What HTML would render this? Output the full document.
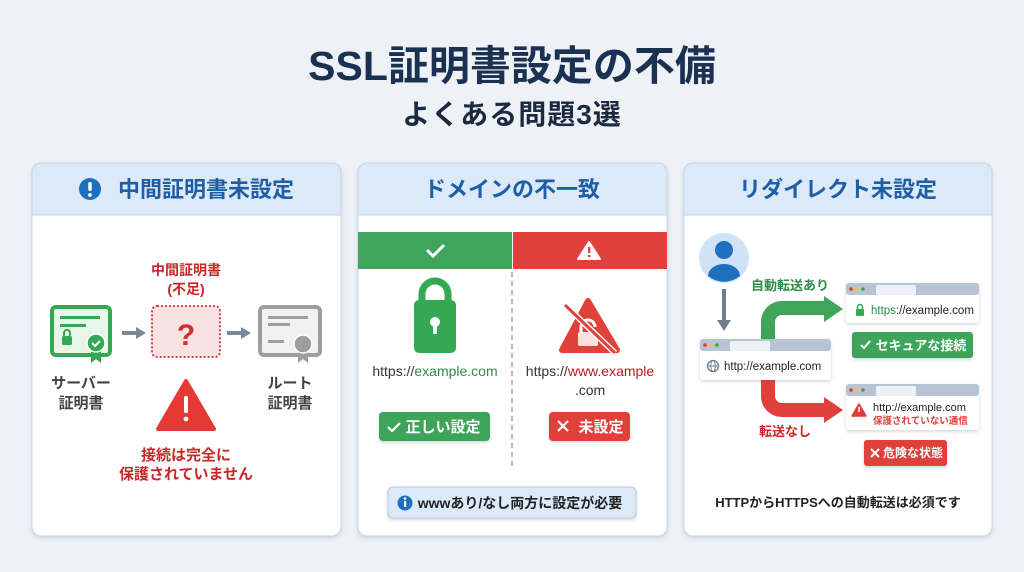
<!DOCTYPE html>
<html><head><meta charset="utf-8"><style>
html,body{margin:0;padding:0;background:#eef2f7;}
svg{display:block;font-family:"Liberation Sans","Noto Sans CJK JP",sans-serif;}
</style></head><body>
<svg width="1024" height="572" viewBox="0 0 1024 572" xmlns="http://www.w3.org/2000/svg">
<defs>
<filter id="sh" x="-10%" y="-10%" width="120%" height="120%"><feDropShadow dx="0" dy="2" stdDeviation="2.5" flood-color="#6b7f99" flood-opacity="0.25"/></filter>
<filter id="sh2" x="-10%" y="-20%" width="120%" height="140%"><feDropShadow dx="0" dy="1.5" stdDeviation="1.5" flood-color="#555" flood-opacity="0.25"/></filter>
</defs>
<rect width="1024" height="572" fill="#eef2f7"/>
<text x="512" y="80" text-anchor="middle" font-size="41" font-weight="bold" fill="#1b3152">SSL証明書設定の不備</text>
<text x="512" y="124" text-anchor="middle" font-size="28" font-weight="bold" fill="#1b2a40" letter-spacing="1">よくある問題3選</text>

<g filter="url(#sh)">
<rect x="32" y="163" width="309" height="373" rx="9" fill="#fff" stroke="#c3d5ea"/>
<rect x="358" y="163" width="309" height="373" rx="9" fill="#fff" stroke="#c3d5ea"/>
<rect x="684" y="163" width="308" height="373" rx="9" fill="#fff" stroke="#c3d5ea"/>
</g>
<path d="M32,215 V172 a9,9 0 0 1 9,-9 H332 a9,9 0 0 1 9,9 V215Z" fill="#dbe9f8" stroke="#c3d5ea"/>
<path d="M358,215 V172 a9,9 0 0 1 9,-9 H658 a9,9 0 0 1 9,9 V215Z" fill="#dbe9f8" stroke="#c3d5ea"/>
<path d="M684,215 V172 a9,9 0 0 1 9,-9 H983 a9,9 0 0 1 9,9 V215Z" fill="#dbe9f8" stroke="#c3d5ea"/>

<!-- Panel 1 -->
<circle cx="90" cy="189" r="11" fill="#1f6fbf"/>
<rect x="88.3" y="182" width="3.4" height="9" rx="1.5" fill="#fff"/><circle cx="90" cy="195" r="1.9" fill="#fff"/>
<text x="206" y="197" text-anchor="middle" font-size="22" font-weight="bold" fill="#1f5fa8">中間証明書未設定</text>
<text x="186" y="275" text-anchor="middle" font-size="14" font-weight="bold" fill="#c62828">中間証明書</text>
<text x="186" y="294" text-anchor="middle" font-size="14" font-weight="bold" fill="#c62828">(不足)</text>
<rect x="52" y="307" width="58" height="48" rx="4" fill="#e8f5e9" stroke="#34a853" stroke-width="4"/>
<rect x="60" y="316" width="40" height="3" fill="#34a853"/><rect x="60" y="324" width="26" height="3" fill="#34a853"/>
<rect x="62" y="336" width="10" height="9" rx="1.5" fill="#34a853"/><path d="M64,336 v-3 a3,3 0 0 1 6,0 v3" fill="none" stroke="#34a853" stroke-width="2"/>
<path d="M91,350 v13 l5,-4 l5,4 v-13z" fill="#34a853"/>
<circle cx="96" cy="343" r="9" fill="#34a853" stroke="#fff" stroke-width="1.5"/>
<path d="M92,343 l3,3 l5,-5" fill="none" stroke="#fff" stroke-width="2"/>
<path d="M122,333 h16" stroke="#7a8796" stroke-width="4"/><path d="M136,327 l10,6 l-10,6z" fill="#7a8796"/>
<path d="M227,333 h16" stroke="#7a8796" stroke-width="4"/><path d="M241,327 l10,6 l-10,6z" fill="#7a8796"/>
<rect x="152" y="306" width="68" height="51" rx="5" fill="#fbe2e2" stroke="#d32f2f" stroke-width="1.8" stroke-dasharray="2,2"/>
<text x="186" y="345" text-anchor="middle" font-size="30" font-weight="bold" fill="#d32f2f">?</text>
<rect x="260" y="307" width="60" height="48" rx="4" fill="#f1f1f1" stroke="#9e9e9e" stroke-width="4"/>
<rect x="268" y="316" width="40" height="3" fill="#9e9e9e"/><rect x="268" y="323" width="22" height="3" fill="#9e9e9e"/><rect x="268" y="340" width="16" height="3" fill="#9e9e9e"/>
<path d="M298,350 v13 l5,-4 l5,4 v-13z" fill="#9e9e9e"/>
<circle cx="303" cy="344" r="9" fill="#9e9e9e" stroke="#fff" stroke-width="1.5"/>
<text x="81" y="388" text-anchor="middle" font-size="15" font-weight="bold" fill="#444">サーバー</text>
<text x="81" y="408" text-anchor="middle" font-size="15" font-weight="bold" fill="#444">証明書</text>
<text x="290" y="388" text-anchor="middle" font-size="15" font-weight="bold" fill="#444">ルート</text>
<text x="290" y="408" text-anchor="middle" font-size="15" font-weight="bold" fill="#444">証明書</text>
<path d="M186,381 L214,429 H158Z" fill="#e53935" stroke="#e53935" stroke-width="4" stroke-linejoin="round"/>
<rect x="184" y="396" width="4" height="17" rx="1.5" fill="#fff"/><circle cx="186" cy="419" r="2.4" fill="#fff"/>
<text x="186" y="460" text-anchor="middle" font-size="15" font-weight="bold" fill="#c62828">接続は完全に</text>
<text x="186" y="479" text-anchor="middle" font-size="15" font-weight="bold" fill="#c62828">保護されていません</text>

<!-- Panel 2 -->
<text x="512" y="197" text-anchor="middle" font-size="22" font-weight="bold" fill="#1f5fa8">ドメインの不一致</text>
<rect x="358" y="232" width="154" height="37" fill="#3ea55a"/>
<rect x="513" y="232" width="154" height="37" fill="#e0413a"/>
<path d="M427,250 l6,6 l11,-11" fill="none" stroke="#fff" stroke-width="3"/>
<path d="M589,242 L600,259 H578Z" fill="#fff" stroke="#fff" stroke-width="2" stroke-linejoin="round"/>
<rect x="588" y="247" width="2.4" height="6" fill="#e0413a"/><rect x="588" y="255" width="2.4" height="2" fill="#e0413a"/>
<line x1="512" y1="272" x2="512" y2="470" stroke="#9aa6b2" stroke-width="1.5" stroke-dasharray="5,4"/>
<path d="M422,302 v-8 a13,13 0 0 1 26,0 v8" fill="none" stroke="#34a853" stroke-width="7"/>
<rect x="414" y="300" width="42" height="53" rx="5" fill="#34a853"/>
<circle cx="435" cy="322" r="5" fill="#fff"/><rect x="433" y="323" width="4" height="11" fill="#fff"/>
<text x="435" y="376" text-anchor="middle" font-size="14" fill="#333">https://<tspan fill="#2e8b47">example.com</tspan></text>
<path d="M588,301 L617,350 H562Z" fill="#e0413a" stroke="#e0413a" stroke-width="6" stroke-linejoin="round"/>
<path d="M581,333 v-6 a7,7 0 0 1 14,0" fill="none" stroke="#fff" stroke-width="3"/>
<rect x="578" y="332" width="20" height="14" rx="2" fill="#fff" opacity="0.85"/>
<line x1="565" y1="305" x2="615" y2="353" stroke="#fff" stroke-width="6"/>
<line x1="565" y1="305" x2="615" y2="353" stroke="#e0413a" stroke-width="3"/>
<text x="590" y="376" text-anchor="middle" font-size="14" fill="#333">https://<tspan fill="#b71c1c">www.example</tspan></text>
<text x="590" y="395" text-anchor="middle" font-size="14" fill="#333">.com</text>
<g filter="url(#sh2)">
<rect x="379" y="412" width="111" height="29" rx="4" fill="#3ea55a"/>
<rect x="549" y="412" width="81" height="29" rx="4" fill="#e0413a"/>
</g>
<path d="M388,427 l4,4 l8,-8" fill="none" stroke="#fff" stroke-width="2.2"/>
<text x="443" y="432" text-anchor="middle" font-size="15" font-weight="bold" fill="#fff">正しい設定</text>
<path d="M558,421 l10,10 M568,421 l-10,10" stroke="#fff" stroke-width="2.2"/>
<text x="601" y="432" text-anchor="middle" font-size="15" font-weight="bold" fill="#fff">未設定</text>
<rect x="388" y="487" width="248" height="31" rx="5" fill="#dbe9f8" stroke="#b6cde6" filter="url(#sh2)"/>
<circle cx="405" cy="503" r="7.5" fill="#1f6fbf"/>
<rect x="404" y="501" width="2.2" height="6" fill="#fff"/><circle cx="405" cy="498.5" r="1.3" fill="#fff"/>
<text x="520" y="508" text-anchor="middle" font-size="14" font-weight="bold" fill="#222">wwwあり/なし両方に設定が必要</text>

<!-- Panel 3 -->
<text x="838" y="197" text-anchor="middle" font-size="22" font-weight="bold" fill="#1f5fa8">リダイレクト未設定</text>
<circle cx="724" cy="258" r="25" fill="#cfe2f6"/>
<circle cx="724" cy="250" r="9" fill="#1f6fbf"/>
<path d="M708,276 a16,12 0 0 1 32,0 a25,25 0 0 1 -32,0z" fill="#1f6fbf"/>
<line x1="724" y1="289" x2="724" y2="322" stroke="#6f7d8c" stroke-width="4"/>
<path d="M717,320 l7,11 l7,-11z" fill="#6f7d8c"/>
<path d="M768,340 V322 a14,14 0 0 1 14,-14 H826" fill="none" stroke="#3ea55a" stroke-width="14"/>
<path d="M824,296 L843,309 L824,322Z" fill="#3ea55a"/>
<text x="790" y="290" text-anchor="middle" font-size="13" font-weight="bold" fill="#2e8b47">自動転送あり</text>
<path d="M768,380 V396 a14,14 0 0 0 14,14 H826" fill="none" stroke="#e0413a" stroke-width="14"/>
<path d="M824,397 L843,410 L824,423Z" fill="#e0413a"/>
<text x="785" y="436" text-anchor="middle" font-size="13" font-weight="bold" fill="#c62828">転送なし</text>
<g filter="url(#sh2)">
<rect x="700" y="339" width="131" height="41" rx="3" fill="#fff"/>
<rect x="846" y="283" width="133" height="40" rx="3" fill="#fff"/>
<rect x="846" y="384" width="133" height="46" rx="3" fill="#fff"/>
</g>
<rect x="700" y="339" width="131" height="12" rx="3" fill="#b6c4d6"/>
<rect x="846" y="283" width="133" height="12" rx="3" fill="#b6c4d6"/>
<rect x="846" y="384" width="133" height="12" rx="3" fill="#b6c4d6"/>
<g>
<circle cx="705" cy="345" r="1.8" fill="#e53935"/><circle cx="711" cy="345" r="1.8" fill="#fbc02d"/><circle cx="717" cy="345" r="1.8" fill="#43a047"/>
<rect x="730" y="341" width="40" height="10" rx="2" fill="#eef2f7"/>
<circle cx="851" cy="289" r="1.8" fill="#e53935"/><circle cx="857" cy="289" r="1.8" fill="#fbc02d"/><circle cx="863" cy="289" r="1.8" fill="#43a047"/>
<rect x="876" y="285" width="40" height="10" rx="2" fill="#eef2f7"/>
<circle cx="851" cy="390" r="1.8" fill="#e53935"/><circle cx="857" cy="390" r="1.8" fill="#fbc02d"/><circle cx="863" cy="390" r="1.8" fill="#43a047"/>
<rect x="876" y="386" width="40" height="10" rx="2" fill="#eef2f7"/>
</g>
<circle cx="713" cy="366" r="5.5" fill="none" stroke="#6f7d8c" stroke-width="1.3"/>
<ellipse cx="713" cy="366" rx="2.3" ry="5.5" fill="none" stroke="#6f7d8c" stroke-width="1"/>
<line x1="707.5" y1="366" x2="718.5" y2="366" stroke="#6f7d8c" stroke-width="1"/>
<text x="724" y="370" font-size="11.5" fill="#222">http://example.com</text>
<rect x="856" y="309" width="8" height="7" rx="1" fill="#34a853"/><path d="M857.5,309 v-2 a2.5,2.5 0 0 1 5,0 v2" fill="none" stroke="#34a853" stroke-width="1.6"/>
<text x="871" y="314" font-size="11.5" fill="#222"><tspan fill="#2e8b47">https</tspan>://example.com</text>
<path d="M859,404 L866,416 H852Z" fill="#e53935" stroke="#e53935" stroke-width="1.5" stroke-linejoin="round"/>
<rect x="858.3" y="407" width="1.6" height="5" fill="#fff"/>
<text x="873" y="411" font-size="11" fill="#222">http://example.com</text>
<text x="873" y="424" font-size="9.5" font-weight="bold" fill="#e0413a">保護されていない通信</text>
<g filter="url(#sh2)">
<rect x="852" y="332" width="121" height="26" rx="3" fill="#3ea55a"/>
<rect x="864" y="440" width="83" height="26" rx="3" fill="#e0413a"/>
</g>
<path d="M861,345 l3,3 l6,-7" fill="none" stroke="#fff" stroke-width="2"/>
<text x="921" y="350" text-anchor="middle" font-size="13" font-weight="bold" fill="#fff">セキュアな接続</text>
<path d="M871,449 l8,8 M879,449 l-8,8" stroke="#fff" stroke-width="2"/>
<text x="913" y="457" text-anchor="middle" font-size="12" font-weight="bold" fill="#fff">危険な状態</text>
<text x="838" y="507" text-anchor="middle" font-size="13" font-weight="bold" fill="#222">HTTPからHTTPSへの自動転送は必須です</text>
</svg>
</body></html>
